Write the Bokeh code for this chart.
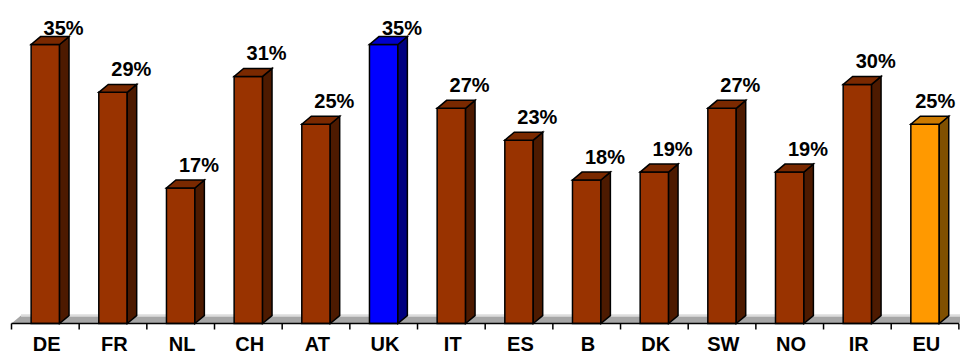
import numpy as np
from bokeh.plotting import figure
from bokeh.models import ColumnDataSource, Range1d
from bokeh.core.properties import value
from bokeh.embed import file_html
from bokeh.resources import INLINE

# Share of respondents per country
countries = ["DE", "FR", "NL", "CH", "AT", "UK", "IT", "ES", "B", "DK", "SW", "NO", "IR", "EU"]
shares = [35, 29, 17, 31, 25, 35, 27, 23, 18, 19, 27, 19, 30, 25]

# face colours: front, side, top
brown = ("#993300", "#4d1a00", "#7a2900")
blue = ("#0000ff", "#000080", "#0000cc")
orange = ("#ff9900", "#805000", "#cc7a00")
palette = {"UK": blue, "EU": orange}

W, H = 960, 356
cat_px = 67.67          # pixels per category slot
pct_px = 7.97           # pixels per percentage point
left_px, base_px = 11, 323

x_start = -left_px / cat_px
y_start = -(H - base_px) / pct_px
p = figure(width=W, height=H, output_backend="svg", toolbar_location=None,
           x_range=Range1d(x_start, x_start + W / cat_px),
           y_range=Range1d(y_start, y_start + H / pct_px),
           x_axis_type=None, y_axis_type=None, min_border=0)
p.grid.visible = False
p.outline_line_color = None
p.background_fill_color = "white"

n = len(countries)
half = 0.21      # half width of the front face (category units)
dx = 0.14        # depth offset, x (category units)
dy = 1.0         # depth offset, y (percentage points)

# floor slab
p.patch([0, dx, n + dx, n], [0, dy, dy, 0], fill_color="#a6a6a6", line_color=None)
p.line([dx, n + dx], [dy, dy], line_color="#dcdcdc", line_width=2.5)

front_xs, front_ys, side_xs, side_ys, top_xs, top_ys = [], [], [], [], [], []
fc, sc, tc = [], [], []
for i, (c, v) in enumerate(zip(countries, shares)):
    m = i + 0.5
    l, r = m - half, m + half
    front_xs.append([l, r, r, l]); front_ys.append([0, 0, v, v])
    side_xs.append([r, r + dx, r + dx, r]); side_ys.append([0, dy, v + dy, v])
    top_xs.append([l, r, r + dx, l + dx]); top_ys.append([v, v, v + dy, v + dy])
    cols = palette.get(c, brown)
    fc.append(cols[0]); sc.append(cols[1]); tc.append(cols[2])

src = ColumnDataSource(dict(fx=front_xs, fy=front_ys, sx=side_xs, sy=side_ys,
                            tx=top_xs, ty=top_ys, fc=fc, sc=sc, tc=tc))
for xs, ys, col in (("fx", "fy", "fc"), ("sx", "sy", "sc"), ("tx", "ty", "tc")):
    p.patches(xs=xs, ys=ys, fill_color=col, line_color="black", line_width=1.5,
              line_join="miter", source=src)

# category axis with boundary ticks
p.line([0, n], [0, 0], line_color="black", line_width=1.5)
bounds = np.arange(n + 1)
p.segment(x0=bounds, y0=np.zeros(n + 1), x1=bounds, y1=np.full(n + 1, -0.75),
          line_color="black", line_width=1.5)

centers = np.arange(n) + 0.5
font = value("Liberation Sans")
p.text(x=centers + 0.02, y=np.full(n, -2.55), text=countries, text_font=font,
       text_font_style="bold", text_font_size="20px", text_align="center",
       text_baseline="alphabetic", text_color="black")

# value labels above each bar, kept inside the plot on the right
vals = np.array(shares, dtype=float)
label_x = np.minimum(centers + 0.27, 13.65)
label_y = np.minimum(vals + 2.9, 37.1)
p.text(x=label_x, y=label_y, text=[f"{v}%" for v in shares], text_font=font,
       text_font_style="bold", text_font_size="20px", text_align="center",
       text_baseline="alphabetic", text_color="black")

open("out.html", "w").write(file_html(p, INLINE))
